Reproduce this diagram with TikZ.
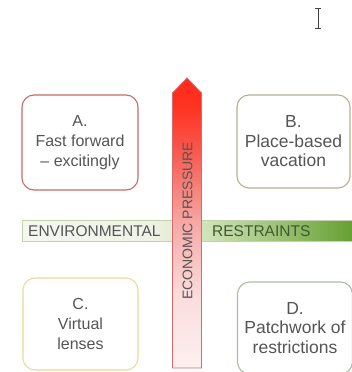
\documentclass[tikz,border=0pt]{standalone}
\usepackage{fontspec}
\setmainfont{Liberation Sans}
\definecolor{txt}{HTML}{555555}
\definecolor{redA}{HTML}{C46A6A}
\definecolor{tanB}{HTML}{B8B090}
\definecolor{yelC}{HTML}{EBDA98}
\definecolor{grnD}{HTML}{AEBDA0}
\definecolor{arrLine}{HTML}{D86A6A}
\definecolor{barLine}{HTML}{C2D3AE}
\definecolor{resTxt}{HTML}{3E5A30}
\definecolor{b0}{HTML}{F5F7F1}
\definecolor{b1}{HTML}{EDF2E5}
\definecolor{b2}{HTML}{CFE2B8}
\definecolor{b3}{HTML}{66A032}
\pgfdeclarehorizontalshading{envbarB}{100bp}{%
  color(0bp)=(b0); color(25bp)=(b0); color(45bp)=(b1); color(53bp)=(b2);
  color(75bp)=(b3); color(100bp)=(b3)}
\definecolor{a0}{HTML}{FDF0F0}
\definecolor{a1}{HTML}{FBDCDC}
\definecolor{a2}{HTML}{F6A8A6}
\definecolor{a3}{HTML}{F75B50}
\definecolor{a4}{HTML}{FF3322}
\definecolor{a5}{HTML}{FF2A1A}
\pgfdeclareverticalshading{ecoarrow}{100bp}{%
  color(0bp)=(a0); color(25bp)=(a0); color(37.5bp)=(a1); color(50bp)=(a2);
  color(62bp)=(a3); color(70bp)=(a4); color(75bp)=(a5); color(100bp)=(a5)}
\begin{document}
\begin{tikzpicture}[x=1pt,y=-1pt,
  card/.style={draw, line width=1.1pt, rounded corners=12pt, fill=white,
    align=center, text=txt, inner sep=0pt},
  smalltxt/.style={font=\fontsize{16}{20}\selectfont},
  bigtxt/.style={font=\fontsize{17.5}{19.5}\selectfont},
  bartext/.style={font=\fontsize{15.5}{18}\selectfont, anchor=west, inner sep=0pt},
]
\useasboundingbox (0,0) rectangle (351,372);
\fill[white] (0,0) rectangle (351,372);

% cursor
\draw[line width=0.8pt, black!75] (315,8) -- (321,8) (318,8) -- (318,28) (315,28) -- (321,28);

% boxes
\node[card, smalltxt, draw=redA, minimum width=116pt, minimum height=95pt] (a) at (80,142.5)
  {A.\\Fast forward\\– excitingly};
\node[card, bigtxt, draw=tanB, minimum width=113pt, minimum height=93pt] (b) at (293.5,141.5)
  {B.\\Place-based\\vacation};
\node[card, smalltxt, draw=yelC, minimum width=115pt, minimum height=92pt] (c) at (80.5,324)
  {C.\\Virtual\\lenses};
\node[card, bigtxt, draw=grnD, minimum width=115pt, minimum height=92pt] (d) at (295,328)
  {D.\\Patchwork of\\restrictions};

% environmental bar
\shade[shading=envbarB, draw=barLine, line width=0.8pt]
  (22,220) rectangle (352,241);
\node[bartext, text=txt] (env) at (28,231) {ENVIRONMENTAL};
\node[bartext, text=resTxt] (res) at (212,231) {RESTRAINTS};

% economic arrow
\shade[shading=ecoarrow, draw=arrLine, line width=0.8pt]
  (172.5,368) -- (172.5,93) -- (187,78) -- (201.5,93) -- (201.5,368) -- cycle;
\node[rotate=90, text=txt, font=\fontsize{14}{16}\selectfont, inner sep=0pt] (eco) at (187.5,221)
  {ECONOMIC PRESSURE};
\end{tikzpicture}
\end{document}
